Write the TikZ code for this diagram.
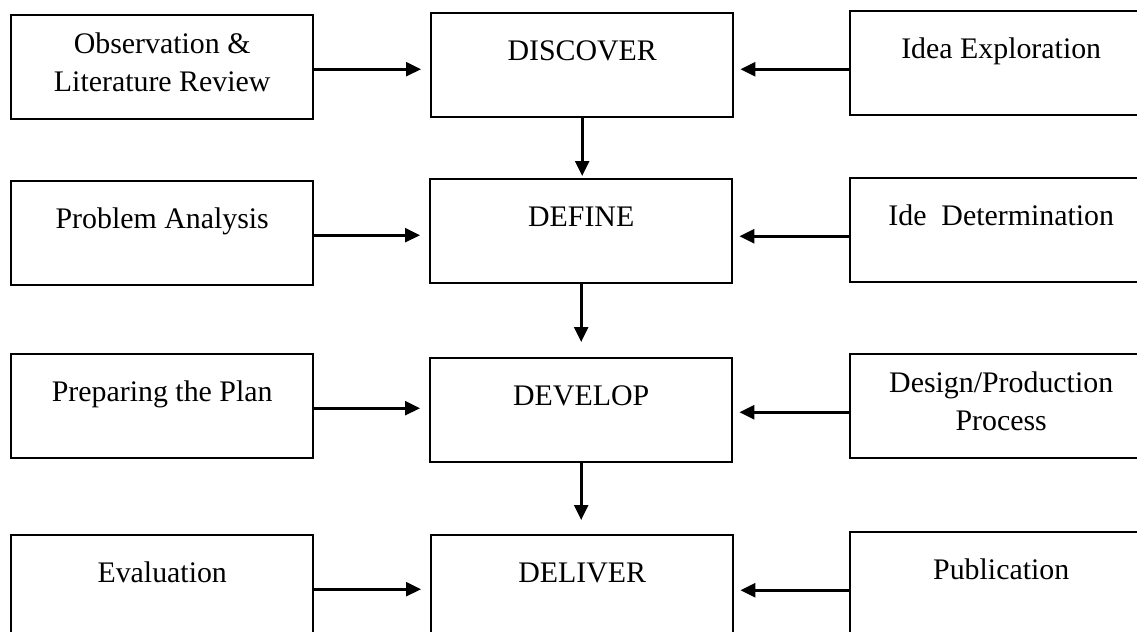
\documentclass[tikz,border=0pt]{standalone}
\usepackage{fontspec}
\setmainfont{Liberation Serif}
\usetikzlibrary{arrows.meta}

\begin{document}
\begin{tikzpicture}[x=0.02cm,y=-0.02cm,line width=1.5pt,
  box/.style={draw,line width=1.4pt,minimum width=6.04cm,inner xsep=0pt,inner ysep=0pt,align=center,
    font=\fontsize{17}{21.6}\selectfont},
  oneline/.style={box,text height=0.94cm,text depth=1.14cm},
  twoline/.style={box,text height=1.52cm,text depth=0.56cm},
  flow/.style={-{Triangle[length=0.3cm,width=0.28cm]}}]

\useasboundingbox (0,0) rectangle (1137,632);
\clip (0,0) rectangle (1137,632);

% left column
\node[twoline,anchor=north west] (obs)  at (10,14)  {Observation \&\\Literature Review};
\node[oneline,anchor=north west] (prob) at (10,180) {Problem Analysis};
\node[oneline,anchor=north west] (plan) at (10,353) {Preparing the Plan};
\node[oneline,anchor=north west] (eval) at (10,534) {Evaluation};

% middle column
\node[oneline,anchor=north west] (discover) at (430,12)  {DISCOVER};
\node[oneline,anchor=north west] (define)   at (429,178) {DEFINE};
\node[oneline,anchor=north west] (develop)  at (429,357) {DEVELOP};
\node[oneline,anchor=north west] (deliver)  at (430,534) {DELIVER};

% right column
\node[oneline,anchor=north west] (idea)   at (849,10)  {Idea Exploration};
\node[oneline,anchor=north west] (ide)    at (849,177) {Ide\ \ Determination};
\node[twoline,anchor=north west] (design) at (849,353) {Design/Production\\Process};
\node[oneline,anchor=north west] (pub)    at (849,531) {Publication};

\draw[flow,shorten >=0.18cm] ([yshift=-0.04cm]obs.east)  -- ([yshift=-0.04cm]obs.east -| discover.west);
\draw[flow,shorten >=0.18cm] ([yshift=-0.04cm]prob.east) -- ([yshift=-0.04cm]prob.east -| define.west);
\draw[flow,shorten >=0.18cm] ([yshift=-0.04cm]plan.east) -- ([yshift=-0.04cm]plan.east -| develop.west);
\draw[flow,shorten >=0.18cm] ([yshift=-0.04cm]eval.east) -- ([yshift=-0.04cm]eval.east -| deliver.west);

\draw[flow,shorten >=0.12cm] ([yshift=-0.12cm]idea.west)   -- ([yshift=-0.12cm]idea.west -| discover.east);
\draw[flow,shorten >=0.12cm] ([yshift=-0.12cm]ide.west)    -- ([yshift=-0.12cm]ide.west -| define.east);
\draw[flow,shorten >=0.12cm] ([yshift=-0.12cm]design.west) -- ([yshift=-0.12cm]design.west -| develop.east);
\draw[flow,shorten >=0.12cm] ([yshift=-0.12cm]pub.west)    -- ([yshift=-0.12cm]pub.west -| deliver.east);

\draw[flow,shorten >=0.04cm] (discover.south) -- (discover.south |- define.north);
\draw[flow,shorten >=0.30cm] (define.south)   -- (define.south |- develop.north);
\draw[flow,shorten >=0.28cm] (develop.south)  -- (develop.south |- deliver.north);

\end{tikzpicture}
\end{document}
